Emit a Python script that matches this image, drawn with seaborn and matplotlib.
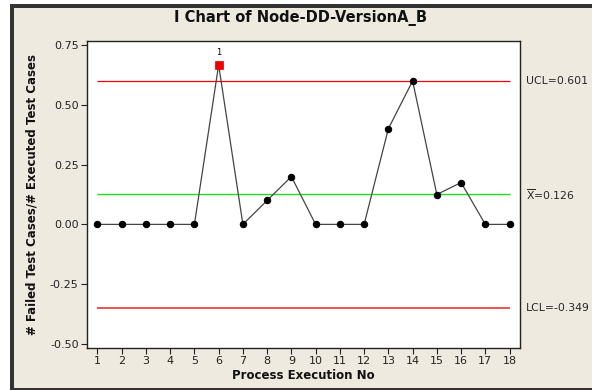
import numpy as np
import pandas as pd
import matplotlib
matplotlib.use("Agg")
import matplotlib.pyplot as plt
import matplotlib.transforms as mtransforms
from matplotlib.patches import Rectangle
import seaborn as sns

# ---- data ----
execution_no = list(range(1, 19))
ratio = [0, 0, 0, 0, 0, 0.667, 0, 0.1, 0.2, 0, 0, 0, 0.4, 0.6, 0.125, 0.175, 0, 0]
ucl = 0.601
center = 0.126
lcl = -0.349
flagged = [6]
y_ticks = [-0.50, -0.25, 0.00, 0.25, 0.50, 0.75]

df = pd.DataFrame({"no": execution_no, "ratio": ratio})
df_flag = df[df["no"].isin(flagged)]

sns.set_theme(style="white")
plt.rcParams['font.family'] = ['DejaVu Sans']

bg = "#EEEAE0"
fig = plt.figure(figsize=(5.92, 3.90), dpi=100)
fig.patch.set_facecolor("white")
# panel background + dark frame
W, H = 592, 390
fig.patches.append(Rectangle((10 / W, 0), 1.1, 1 - 4 / H, transform=fig.transFigure,
                             facecolor="#333333", edgecolor="none", zorder=-3))
fig.patches.append(Rectangle((14 / W, 2 / H), 1.1, 1 - 10 / H, transform=fig.transFigure,
                             facecolor=bg, edgecolor="none", zorder=-2))

ax = fig.add_axes([87 / W, 1 - 348 / H, (520 - 87) / W, (348 - 41) / H])
ax.set_facecolor("white")

ax.hlines(ucl, 1, 18, color="#FF0000", lw=0.9, zorder=1)
ax.hlines(center, 1, 18, color="#00EE00", lw=0.9, zorder=1)
ax.hlines(lcl, 1, 18, color="#EE3333", lw=1.2, zorder=1)

sns.lineplot(data=df, x="no", y="ratio", ax=ax, color="#444444", lw=0.9,
             marker="o", markersize=4.6, markerfacecolor="black", markeredgecolor="black",
             zorder=3)
sns.scatterplot(data=df_flag, x="no", y="ratio", ax=ax, marker="s", s=26,
                color="#EE0000", edgecolor="#EE0000", linewidth=0.5, zorder=4)
for _, r in df_flag.iterrows():
    ax.text(r["no"], r["ratio"] + 0.035, "1", ha="center", va="bottom", fontsize=6, color="black")

ax.set_xlim(0.57, 18.43)
ax.set_ylim(-0.517, 0.767)
ax.set_xticks(execution_no)
ax.set_xticklabels([str(v) for v in execution_no])
ax.set_yticks(y_ticks)
ax.set_yticklabels([f"{v:.2f}" for v in y_ticks])
ax.tick_params(axis="both", which="major", direction="out", length=4, width=0.8,
               labelsize=8, colors="#222222", bottom=True, left=True, pad=2)
for s in ax.spines.values():
    s.set_color("#222222")
    s.set_linewidth(1.0)

ax.set_xlabel("Process Execution No", fontsize=8.5, fontweight="bold", labelpad=2, color="#111111")
ax.set_ylabel("# Failed Test Cases/# Executed Test Cases", fontsize=8.5, fontweight="bold",
              labelpad=8, color="#111111")
fig.text(300 / W, 1 - 18 / H, "I Chart of Node-DD-VersionA_B", ha="center", va="center",
         fontsize=10.5, fontweight="bold", color="#111111")

trans = mtransforms.blended_transform_factory(ax.transAxes, ax.transData)
ax.text(1.014, ucl, f"UCL={ucl:.3f}", transform=trans, ha="left", va="center", fontsize=7.8, clip_on=False)
ax.text(1.014, center, r"$\overline{\mathrm{X}}$" + f"={center:.3f}", transform=trans, ha="left",
        va="center", fontsize=7.8, clip_on=False)
ax.text(1.014, lcl, f"LCL={lcl:.3f}", transform=trans, ha="left", va="center", fontsize=7.8, clip_on=False)

fig.savefig("out.png", dpi=100, facecolor=fig.get_facecolor())
